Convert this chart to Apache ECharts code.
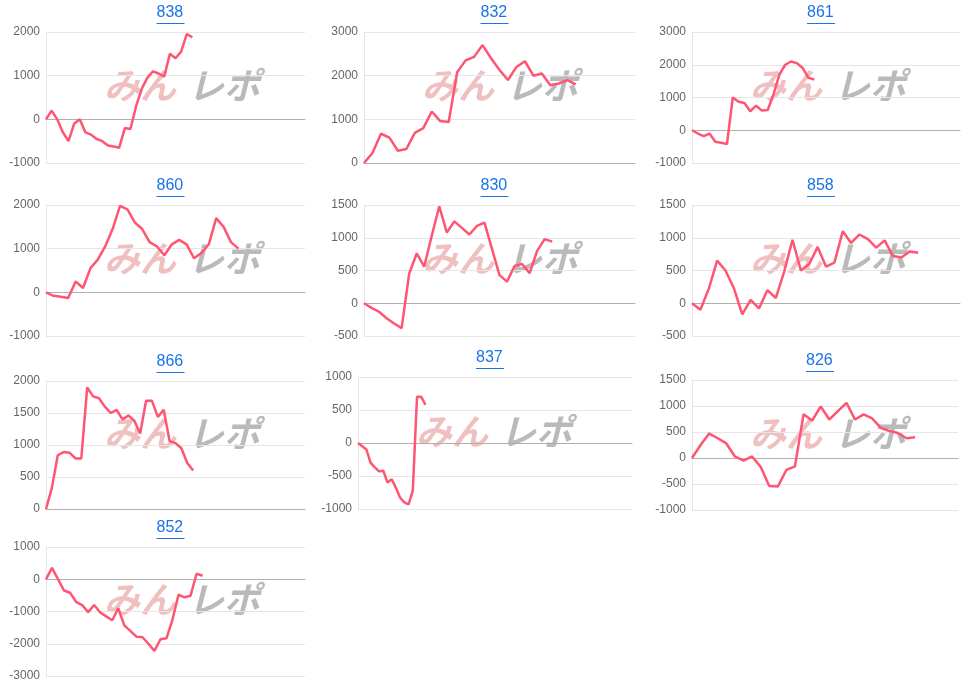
<!DOCTYPE html>
<html><head><meta charset="utf-8">
<script src="https://cdn.jsdelivr.net/npm/echarts@6/dist/echarts.min.js"></script>
<style>html,body{margin:0;padding:0;background:#fff}#c{width:968px;height:687px}</style>
</head><body><div id="c"></div>
<script>
const names = ['838','832','861','860','830','858','866','837','826','852'];
const d838 = [0,200,0,-300,-500,-100,0,-300,-350,-450,-500,-600,-620,-650,-200,-220,300,700,950,1100,1050,980,1500,1400,1550,1950,1880];
const d832 = [0,230,670,580,280,320,690,800,1180,960,940,2080,2350,2430,2700,2400,2130,1900,2200,2330,2000,2050,1780,1820,1900,1800];
const d861 = [0,-100,-180,-100,-350,-380,-420,1000,870,830,580,750,600,620,1100,1700,2000,2100,2050,1900,1600,1550];
const d860 = [0,-80,-100,-130,250,100,550,750,1050,1450,1980,1900,1600,1450,1150,1050,850,1100,1200,1100,780,900,1100,1700,1500,1150,1000];
const d830 = [0,-70,-130,-230,-310,-380,450,760,560,1030,1480,1080,1250,1150,1050,1180,1230,830,430,330,570,600,460,800,980,940];
const d858 = [0,-100,220,650,500,230,-170,50,-80,200,80,480,970,500,600,860,560,620,1100,920,1050,980,850,960,720,700,790,770];
const d866 = [0,330,840,890,880,790,790,1900,1760,1730,1600,1500,1550,1400,1460,1380,1180,1690,1690,1440,1550,1060,1030,950,720,600];
const d837 = [0,-50,-100,-300,-370,-430,-420,-600,-550,-680,-830,-900,-930,-720,700,700,580];
const d826 = [0,250,470,380,280,30,-50,30,-170,-540,-550,-230,-160,840,720,990,740,900,1060,740,840,760,580,520,480,380,400];
const d852 = [0,350,0,-350,-420,-700,-800,-1020,-800,-1030,-1150,-1270,-900,-1430,-1600,-1780,-1790,-2000,-2220,-1860,-1830,-1250,-480,-560,-510,170,110];
const series = [d838,d832,d861,d860,d830,d858,d866,d837,d826,d852];
const slots = [47,33,47,36,37,33,45,66,32,44];
const yMin = [-1000,0,-1000,-1000,-500,-500,0,-1000,-1000,-3000];
const yMax = [2000,3000,3000,2000,1500,1500,2000,1000,1500,1000];
const yStep = [1000,1000,1000,1000,500,500,500,500,500,1000];
const boxes = [
 [46,32,305,163],[364,32,635,163],[692,32,960,163],
 [46,205,305,336],[364,205,635,336],[692,205,960,336],
 [46,381,305,509],[358,377,632,509],[692,380,958,510],
 [46,547,305,676]
];
const grid=[],xAxis=[],yAxis=[],ser=[],graphic=[];
series.forEach((s,i)=>{
  const b=boxes[i];
  grid.push({left:b[0],top:b[1],width:b[2]-b[0],height:b[3]-b[1]});
  xAxis.push({type:'category',gridIndex:i,boundaryGap:false,data:Array.from({length:slots[i]},(_,k)=>k+1),
    axisLabel:{show:false},axisTick:{show:false},axisLine:{onZero:true,lineStyle:{color:'#b0b0b0'}},splitLine:{show:false}});
  yAxis.push({type:'value',gridIndex:i,min:yMin[i],max:yMax[i],interval:yStep[i],
    axisLine:{show:true,lineStyle:{color:'#e6e6e6'}},axisTick:{show:false},
    axisLabel:{color:'#666',fontSize:12,fontFamily:'Arial, Liberation Sans',margin:6,formatter:v=>String(v)},
    splitLine:{lineStyle:{color:'#e6e6e6'}}});
  ser.push({type:'line',xAxisIndex:i,yAxisIndex:i,data:s,showSymbol:false,z:1,
    lineStyle:{color:'#ff5573',width:2.5},itemStyle:{color:'#ff5573'}});
  const cx=(b[0]+b[2])/2-6;
  graphic.push({type:'text',left:cx-13,top:b[1]-27,style:{text:names[i],fill:'#1a73e8',font:'16px Arial, Liberation Sans'}});
  graphic.push({type:'rect',shape:{x:cx-13,y:b[1]-9,width:28,height:1},style:{fill:'#1a73e8'}});
  const wy=(b[1]+b[3])/2-30;
  graphic.push({type:'text',left:b[0]+58,top:wy,z:0,style:{text:'みん',fill:'rgba(225,130,130,0.5)',font:'italic bold 36px "Noto Sans CJK JP"'}});
  graphic.push({type:'text',left:b[0]+142,top:wy,z:0,style:{text:'レポ',fill:'rgba(140,140,140,0.6)',font:'italic bold 36px "Noto Sans CJK JP"'}});
});
const chart=echarts.init(document.getElementById('c'));
chart.setOption({animation:false,grid,xAxis,yAxis,series:ser,graphic});
</script></body></html>
